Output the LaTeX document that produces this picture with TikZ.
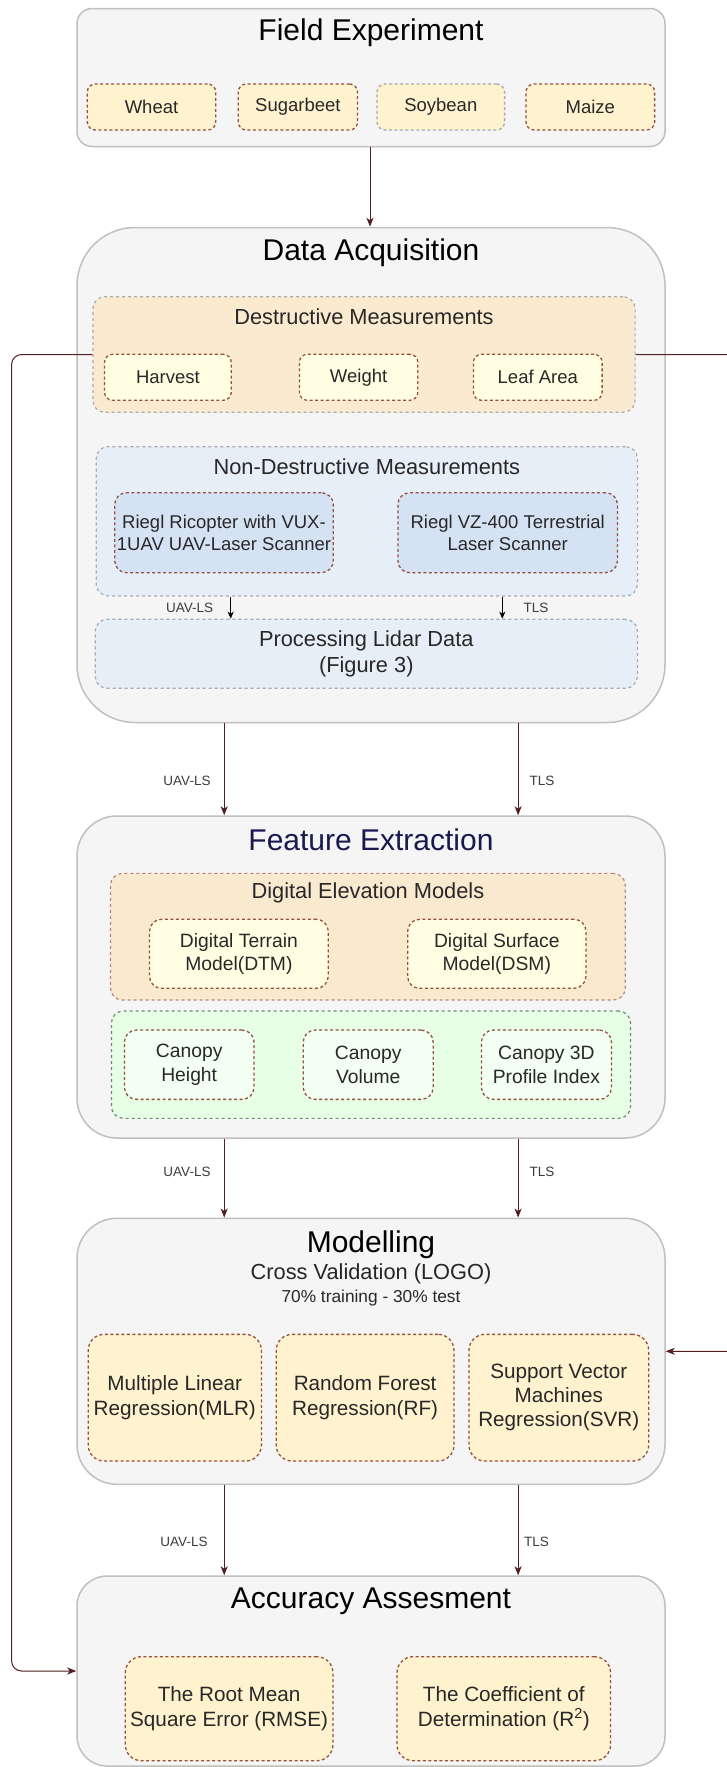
\documentclass[tikz,border=0pt]{standalone}
\usepackage{fontspec}
\setmainfont{Liberation Sans}
\usetikzlibrary{arrows.meta}

\definecolor{stagefill}{RGB}{245,245,245}
\definecolor{stageline}{RGB}{192,192,192}
\definecolor{groupline}{RGB}{170,170,175}
\definecolor{itemline}{RGB}{150,82,62}
\definecolor{cropfill}{RGB}{255,242,206}
\definecolor{destrfill}{RGB}{250,234,208}
\definecolor{paleyellow}{RGB}{255,254,226}
\definecolor{nondfill}{RGB}{230,238,248}
\definecolor{scanfill}{RGB}{213,226,244}
\definecolor{procline}{RGB}{160,168,185}
\definecolor{demfill}{RGB}{249,233,207}
\definecolor{canopyfill}{RGB}{230,255,230}
\definecolor{canopyline}{RGB}{110,140,110}
\definecolor{canopyitem}{RGB}{242,255,242}
\definecolor{titlenavy}{RGB}{25,25,80}
\definecolor{flowline}{RGB}{82,32,32}
\definecolor{textdark}{RGB}{40,40,40}
\definecolor{tagtext}{RGB}{60,60,60}

\newcommand\pxfont[2]{\fontsize{#1}{#2}\selectfont}

\tikzset{
  stage/.style={draw=stageline, line width=1.5pt, fill=stagefill, minimum width=588pt, inner sep=0pt},
  stagetitle/.style={font=\pxfont{30}{36}},
  grouptitle/.style={text=textdark, font=\pxfont{21.8}{26}},
  measgroup/.style={draw=groupline, line width=1.2pt, dash pattern=on 3pt off 3pt, rounded corners=12pt, inner sep=0pt},
  item/.style={draw=itemline, line width=1.3pt, dash pattern=on 3pt off 2.5pt, rounded corners=8pt, align=center, text=textdark, inner sep=0pt},
  itemS/.style={item, font=\pxfont{18.5}{22.3}},
  itemM/.style={item, font=\pxfont{19.3}{23.4}},
  itemL/.style={item, rounded corners=16pt, font=\pxfont{20.7}{24.2}},
  flow/.style={draw=flowline, line width=1pt, -{Stealth[length=9pt,width=7pt,inset=2.5pt]}},
  feed/.style={flow, rounded corners=10pt},
  probe/.style={draw=black, line width=1pt, -{Stealth[length=7pt,width=6pt,inset=2pt]}},
  flowtag/.style={text=tagtext, font=\pxfont{13.5}{16}}
}

\begin{document}
\begin{tikzpicture}[x=1pt,y=-1pt]
\useasboundingbox[fill=white] (0,0) rectangle (727,1767);

% main stages
\node[stage, rounded corners=15pt, minimum height=138pt] (field) at (371,77.5) {};
\node[stage, rounded corners=58pt, minimum height=495pt] (acq) at (371,475) {};
\node[stage, rounded corners=40pt, minimum height=322pt] (feat) at (371,977) {};
\node[stage, rounded corners=40pt, minimum height=266pt] (model) at (371,1351.3) {};
\node[stage, rounded corners=30pt, minimum height=190pt] (acc) at (371,1671) {};

\node[stagetitle] (fieldT) at (371,33) {Field Experiment};
\node[stagetitle] (acqT) at (371,253) {Data Acquisition};
\node[stagetitle, text=titlenavy] (featT) at (371,840) {Feature Extraction};
\node[stagetitle] (modelT) at (371,1245) {Modelling};
\node[stagetitle] (accT) at (371,1601.7) {Accuracy Assesment};

% crops
\node[itemS, fill=cropfill, minimum width=128.4pt, minimum height=46pt] (wheat) at (151.5,107) {Wheat};
\node[itemS, fill=cropfill, minimum width=119.3pt, minimum height=46pt] (sugar) at (297.9,107) {Sugarbeet};
\node[itemS, fill=cropfill, draw=groupline, minimum width=127.6pt, minimum height=46pt] (soy) at (440.8,107) {Soybean};
\node[itemS, fill=cropfill, minimum width=128.6pt, minimum height=46pt] (maize) at (590.3,107) {Maize};

% destructive measurements
\node[measgroup, fill=destrfill, minimum width=542.2pt, minimum height=115.6pt] (destr) at (364,354.5) {};
\node[grouptitle] (destrT) at (364,316.7) {Destructive Measurements};
\node[itemS, fill=paleyellow, minimum width=126.7pt, minimum height=46pt] (harvest) at (167.9,377.3) {Harvest};
\node[itemS, fill=paleyellow, minimum width=118.4pt, minimum height=46pt] (weight) at (358.6,377.3) {Weight};
\node[itemS, fill=paleyellow, minimum width=128.6pt, minimum height=46pt] (leaf) at (537.8,377.3) {Leaf Area};

% non-destructive measurements
\node[measgroup, fill=nondfill, minimum width=541.3pt, minimum height=149.3pt] (nond) at (366.8,521.3) {};
\node[grouptitle] (nondT) at (366.8,466.7) {Non-Destructive Measurements};
\node[itemS, fill=scanfill, rounded corners=12pt, minimum width=218.6pt, minimum height=80pt] (uav) at (224,532.7) {Riegl Ricopter with VUX-\\1UAV UAV-Laser Scanner};
\node[itemS, fill=scanfill, rounded corners=12pt, minimum width=219.6pt, minimum height=80pt] (tls) at (507.7,532.7) {Riegl VZ-400 Terrestrial\\Laser Scanner};

\node[measgroup, draw=procline, fill=nondfill, align=center, text=textdark, font=\pxfont{21.8}{25.7}, minimum width=542.2pt, minimum height=69pt] (proc) at (366.3,653.8) {Processing Lidar Data\\(Figure 3)};

% feature extraction
\node[measgroup, draw=itemline!70, fill=demfill, minimum width=514.8pt, minimum height=126.7pt] (dem) at (367.9,936.7) {};
\node[grouptitle] (demT) at (367.9,893.3) {Digital Elevation Models};
\node[itemM, fill=paleyellow, rounded corners=12pt, minimum width=178.7pt, minimum height=69pt] (dtm) at (238.9,953.8) {Digital Terrain\\Model(DTM)};
\node[itemM, fill=paleyellow, rounded corners=12pt, minimum width=178.3pt, minimum height=69pt] (dsm) at (496.8,953.8) {Digital Surface\\Model(DSM)};

\node[measgroup, draw=canopyline, fill=canopyfill, minimum width=519.1pt, minimum height=107.3pt] (canopy) at (371,1064.7) {};
\node[itemM, fill=canopyitem, rounded corners=12pt, minimum width=129.6pt, minimum height=69.3pt] (height) at (189.2,1064.7) {Canopy\\Height};
\node[itemM, fill=canopyitem, rounded corners=12pt, minimum width=129.9pt, minimum height=69.3pt] (volume) at (368.2,1064.7) {Canopy\\Volume};
\node[itemM, fill=canopyitem, rounded corners=12pt, minimum width=130pt, minimum height=69.3pt] (profile) at (546.4,1064.7) {Canopy 3D\\Profile Index};

% modelling
\node[grouptitle, text=black!85] (cv) at (371,1274) {Cross Validation (LOGO)};
\node[text=textdark, font=\pxfont{17.3}{20}] (split) at (371,1297.7) {70\% training - 30\% test};
\node[itemL, fill=cropfill, minimum width=173.2pt, minimum height=126.7pt] (mlr) at (174.8,1397.7) {Multiple Linear\\Regression(MLR)};
\node[itemL, fill=cropfill, minimum width=177.8pt, minimum height=126.7pt] (rf) at (365.1,1397.7) {Random Forest\\Regression(RF)};
\node[itemL, fill=cropfill, minimum width=179.7pt, minimum height=126.7pt] (svr) at (558.8,1397.7) {Support Vector\\Machines\\Regression(SVR)};

% accuracy
\node[itemL, fill=cropfill, minimum width=207.6pt, minimum height=104pt] (rmse) at (229.1,1708.7) {The Root Mean\\Square Error (RMSE)};
\node[itemL, fill=cropfill, minimum width=213.5pt, minimum height=104pt] (rsq) at (503.8,1708.7) {The Coefficient of\\Determination (R\textsuperscript{2})};

% connector columns
\coordinate (midx) at (370,0);
\coordinate (uavA) at (230.7,0);
\coordinate (tlsA) at (502.3,0);
\coordinate (uavB) at (224.2,0);
\coordinate (tlsB) at (518.1,0);
\coordinate (fbl) at (11.6,0);
\coordinate (fbr) at (760,0);

\draw[flow] (field.south -| midx) -- (acq.north -| midx); %arrow
\draw[probe] (nond.south -| uavA) -- (proc.north -| uavA);
\draw[probe] (nond.south -| tlsA) -- (proc.north -| tlsA);
\node[flowtag] (tagA1) at (189.7,607.7) {UAV-LS}; %label
\node[flowtag] (tagA2) at (536,607.7) {TLS}; %label

\draw[flow] (acq.south -| uavB) -- (feat.north -| uavB);
\draw[flow] (acq.south -| tlsB) -- (feat.north -| tlsB);
\node[flowtag] (tagB1) at (187,781) {UAV-LS}; %label
\node[flowtag] (tagB2) at (542,781) {TLS}; %label

\draw[flow] (feat.south -| uavB) -- (model.north -| uavB);
\draw[flow] (feat.south -| tlsB) -- (model.north -| tlsB);
\node[flowtag] (tagC1) at (187,1172) {UAV-LS}; %label
\node[flowtag] (tagC2) at (542,1172) {TLS}; %label

\draw[flow] (model.south -| uavB) -- (acc.north -| uavB);
\draw[flow] (model.south -| tlsB) -- (acc.north -| tlsB);
\node[flowtag] (tagD1) at (184,1542.3) {UAV-LS}; %label
\node[flowtag] (tagD2) at (536.6,1542.3) {TLS}; %label

% feedback of the measured data
\draw[feed] (destr.west) -- (fbl |- destr.west) |- (acc.west);
\draw[feed] (destr.east) -- (fbr |- destr.east) |- (model.east);
\end{tikzpicture}
\end{document}
